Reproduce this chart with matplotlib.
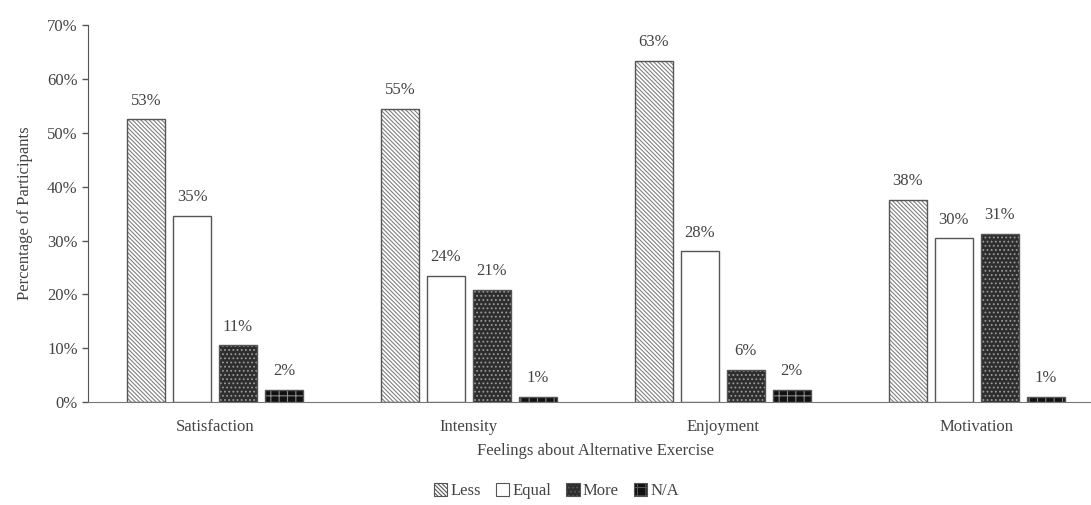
import matplotlib
matplotlib.use("Agg")
import matplotlib.pyplot as plt
import numpy as np

categories = ["Satisfaction", "Intensity", "Enjoyment", "Motivation"]
series_names = ["Less", "Equal", "More", "N/A"]
less = [52.5, 54.5, 63.4, 37.6]
equal = [34.6, 23.5, 28.0, 30.4]
more = [10.5, 20.8, 6.0, 31.2]
na = [2.2, 1.0, 2.2, 1.0]
labels_less = ["53%", "55%", "63%", "38%"]
labels_equal = ["35%", "24%", "28%", "30%"]
labels_more = ["11%", "21%", "6%", "31%"]
labels_na = ["2%", "1%", "2%", "1%"]

plt.rcParams['font.family'] = ['Liberation Serif', 'DejaVu Serif']
plt.rcParams['hatch.linewidth'] = 0.8
txt = '#444444'

fig = plt.figure(figsize=(10.91, 5.05), dpi=100)
# axes extend past the right edge, as in the reference
ax = fig.add_axes([0.0807, 0.204, 0.931, 0.746])

x = np.arange(len(categories))
width = 0.150
step = 0.181
offsets = [-1.5 * step, -0.5 * step, 0.5 * step, 1.5 * step]
styles = [
    dict(face='#ffffff', hatchc='#808080', hatch='\\\\\\\\\\\\\\\\'),
    dict(face='#ffffff', hatchc='#ffffff', hatch=None),
    dict(face='#2e2e2e', hatchc='#9a9a9a', hatch='....'),
    dict(face='#111111', hatchc='#8a8a8a', hatch='++'),
]
data = [less, equal, more, na]
labs = [labels_less, labels_equal, labels_more, labels_na]
handles = []
for vals, lab, off, st, name in zip(data, labs, offsets, styles, series_names):
    ax.bar(x + off, vals, width, color=st['face'], edgecolor=st['hatchc'],
           hatch=st['hatch'], linewidth=0, zorder=2)
    ax.bar(x + off, vals, width, fill=False, edgecolor='#555555', linewidth=1.0, zorder=3)
    for xi, v, t in zip(x + off, vals, lab):
        ax.text(xi, v + 2.0, t, ha='center', va='bottom', fontsize=12, color=txt)
    h = plt.Rectangle((0, 0), 1, 1, facecolor=st['face'], edgecolor=st['hatchc'],
                      hatch=st['hatch'], linewidth=0)
    handles.append(h)

ax.set_xlim(-0.5, 3.5)
ax.set_ylim(0, 70)
ax.set_yticks(np.arange(0, 71, 10))
ax.set_yticklabels([f"{v}%" for v in range(0, 71, 10)])
ax.set_xticks(x)
ax.set_xticklabels(categories)
ax.tick_params(axis='x', length=0, labelsize=12, colors=txt, pad=12)
ax.tick_params(axis='y', length=4, labelsize=12, colors=txt, direction='out', width=1, color='#555555')
for s in ['top', 'right']:
    ax.spines[s].set_visible(False)
ax.spines['left'].set_color('#555555')
ax.spines['bottom'].set_color('#777777')
ax.set_ylabel("Percentage of Participants", fontsize=12, color=txt, labelpad=10)
ax.set_xlabel("Feelings about Alternative Exercise", fontsize=12, color=txt, labelpad=6)

leg = fig.legend(handles, series_names, loc='center', bbox_to_anchor=(0.51, 0.028),
                 ncol=4, frameon=False, fontsize=12, handlelength=0.8, handleheight=0.8,
                 handletextpad=0.2, columnspacing=0.9, labelcolor=txt)
for h in leg.legend_handles:
    h.set_edgecolor('#555555')
    h.set_linewidth(0.8)

fig.savefig("out.png", dpi=100)
